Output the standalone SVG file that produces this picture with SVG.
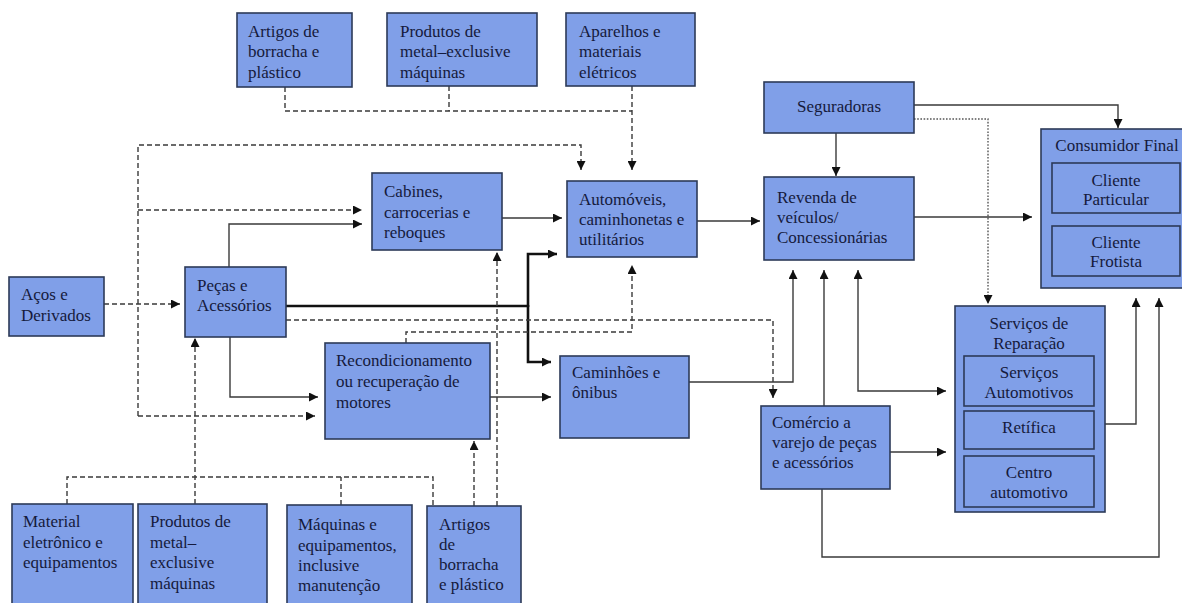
<svg xmlns="http://www.w3.org/2000/svg" width="1182" height="603" viewBox="0 0 1182 603">
<style>
.b{fill:#809fe8;stroke:#2c3a58;stroke-width:1.6}
.t{font-family:"Liberation Serif","Times New Roman",serif;font-size:17px;fill:#151a3c}
.c{text-anchor:middle}
.s{fill:none;stroke:#3a3a3a;stroke-width:1.4}
.k{fill:none;stroke:#111;stroke-width:2.6}
.d{fill:none;stroke:#3a3a3a;stroke-width:1.4;stroke-dasharray:5,3}
.o{fill:none;stroke:#555;stroke-width:1.4;stroke-dasharray:1.6,1.6}
.a{marker-end:url(#ar)}
</style>
<defs>
<marker id="ar" viewBox="0 0 8 8" refX="8" refY="4" markerWidth="9" markerHeight="9" markerUnits="userSpaceOnUse" orient="auto-start-reverse"><path d="M0,0 L8,4 L0,8 z" fill="#111"/></marker>
</defs>
<rect width="1182" height="603" fill="#fff"/>
<g id="connectors">
<path class="d" d="M285,87 V111 H632"/>
<path class="d" d="M449,86 V111"/>
<path class="d a" d="M632,86 V170"/>
<path class="d a" d="M138,416 V145 H581 V170"/>
<path class="d a" d="M138,210 H362"/>
<path class="d a" d="M138,416 H315"/>
<path class="d a" d="M104,304 H180"/>
<path class="s a" d="M229,267 V224 H362"/>
<path class="s a" d="M230,337 V397 H318"/>
<path class="k" d="M286,306 H528"/>
<path class="k a" d="M528,307 V254 H557"/>
<path class="k a" d="M528,305 V362 H551"/>
<path class="d a" d="M286,320 H773 V398"/>
<path class="d a" d="M406,343 V332 H632 V265"/>
<path class="s a" d="M502,218 H562"/>
<path class="s a" d="M697,221 H760"/>
<path class="s a" d="M490,397 H551"/>
<path class="s a" d="M689,382 H793 V270"/>
<path class="s a" d="M824,406 V270"/>
<path class="s a" d="M858,270 V391 H946" marker-start="url(#ar)"/>
<path class="s a" d="M890,452 H946"/>
<path class="s a" d="M822,489 V557 H1159 V298"/>
<path class="s a" d="M1105,424 H1136 V298"/>
<path class="s a" d="M836,133 V176"/>
<path class="s a" d="M914,105 H1118 V128"/>
<path class="o a" d="M914,119 H988 V304"/>
<path class="s a" d="M914,217 H1032"/>
<path class="d" d="M67,504 V477 H433 V506"/>
<path class="d" d="M341,505 V477"/>
<path class="d a" d="M195,504 V338"/>
<path class="d a" d="M474,506 V441"/>
<path class="d a" d="M497,506 V252"/>
</g>
<g id="artigos-top"><rect class="b" x="237" y="13" width="115" height="74"/><text class="t" x="248" y="37">Artigos de</text><text class="t" x="248" y="57">borracha e</text><text class="t" x="248" y="78">plástico</text></g>
<g id="produtos-top"><rect class="b" x="387" y="13" width="150" height="73"/><text class="t" x="400" y="37">Produtos de</text><text class="t" x="400" y="57">metal–exclusive</text><text class="t" x="400" y="78">máquinas</text></g>
<g id="aparelhos"><rect class="b" x="566" y="13" width="129" height="73"/><text class="t" x="579" y="37">Aparelhos e</text><text class="t" x="579" y="57">materiais</text><text class="t" x="579" y="78">elétricos</text></g>
<g id="seguradoras"><rect class="b" x="764" y="82" width="150" height="51"/><text class="t c" x="839" y="112">Seguradoras</text></g>
<g id="consumidor"><rect class="b" x="1041" y="129" width="150" height="159"/><text class="t c" x="1117" y="151">Consumidor Final</text>
<rect class="b" x="1052" y="163" width="128" height="50"/><text class="t c" x="1116" y="186">Cliente</text><text class="t c" x="1116" y="205">Particular</text>
<rect class="b" x="1052" y="226" width="128" height="50"/><text class="t c" x="1116" y="248">Cliente</text><text class="t c" x="1116" y="267">Frotista</text></g>
<g id="cabines"><rect class="b" x="372" y="173" width="130" height="77"/><text class="t" x="384" y="197">Cabines,</text><text class="t" x="384" y="218">carrocerias e</text><text class="t" x="384" y="238">reboques</text></g>
<g id="automoveis"><rect class="b" x="567" y="181" width="130" height="76"/><text class="t" x="579" y="205">Automóveis,</text><text class="t" x="579" y="225">caminhonetas e</text><text class="t" x="579" y="245">utilitários</text></g>
<g id="revenda"><rect class="b" x="764" y="177" width="150" height="83"/><text class="t" x="777" y="203">Revenda de</text><text class="t" x="777" y="223">veículos/</text><text class="t" x="777" y="243">Concessionárias</text></g>
<g id="acos"><rect class="b" x="9" y="277" width="95" height="59"/><text class="t" x="21" y="300">Aços e</text><text class="t" x="21" y="321">Derivados</text></g>
<g id="pecas"><rect class="b" x="185" y="267" width="101" height="70"/><text class="t" x="197" y="291">Peças e</text><text class="t" x="197" y="311">Acessórios</text></g>
<g id="recondicionamento"><rect class="b" x="325" y="343" width="165" height="96"/><text class="t" x="336" y="366">Recondicionamento</text><text class="t" x="336" y="387">ou recuperação de</text><text class="t" x="336" y="408">motores</text></g>
<g id="caminhoes"><rect class="b" x="560" y="356" width="129" height="82"/><text class="t" x="572" y="378">Caminhões e</text><text class="t" x="572" y="398">ônibus</text></g>
<g id="comercio"><rect class="b" x="761" y="406" width="129" height="83"/><text class="t" x="772" y="428">Comércio a</text><text class="t" x="772" y="448">varejo de peças</text><text class="t" x="772" y="468">e acessórios</text></g>
<g id="servicos"><rect class="b" x="955" y="306" width="150" height="206"/><text class="t c" x="1029" y="329">Serviços de</text><text class="t c" x="1029" y="349">Reparação</text>
<rect class="b" x="964" y="356" width="130" height="50"/><text class="t c" x="1029" y="378">Serviços</text><text class="t c" x="1029" y="398">Automotivos</text>
<rect class="b" x="964" y="411" width="130" height="38"/><text class="t c" x="1029" y="433">Retífica</text>
<rect class="b" x="964" y="456" width="130" height="51"/><text class="t c" x="1029" y="478">Centro</text><text class="t c" x="1029" y="498">automotivo</text></g>
<g id="material"><rect class="b" x="12" y="504" width="121" height="110"/><text class="t" x="23" y="527">Material</text><text class="t" x="23" y="548">eletrônico e</text><text class="t" x="23" y="568">equipamentos</text></g>
<g id="produtos-bottom"><rect class="b" x="138" y="504" width="129" height="110"/><text class="t" x="150" y="527">Produtos de</text><text class="t" x="150" y="548">metal–</text><text class="t" x="150" y="568">exclusive</text><text class="t" x="150" y="589">máquinas</text></g>
<g id="maquinas"><rect class="b" x="287" y="505" width="125" height="110"/><text class="t" x="298" y="530">Máquinas e</text><text class="t" x="298" y="551">equipamentos,</text><text class="t" x="298" y="571">inclusive</text><text class="t" x="298" y="591">manutenção</text></g>
<g id="artigos-bottom"><rect class="b" x="427" y="506" width="94" height="110"/><text class="t" x="439" y="530">Artigos</text><text class="t" x="439" y="550">de</text><text class="t" x="439" y="570">borracha</text><text class="t" x="439" y="590">e plástico</text></g>
</svg>
